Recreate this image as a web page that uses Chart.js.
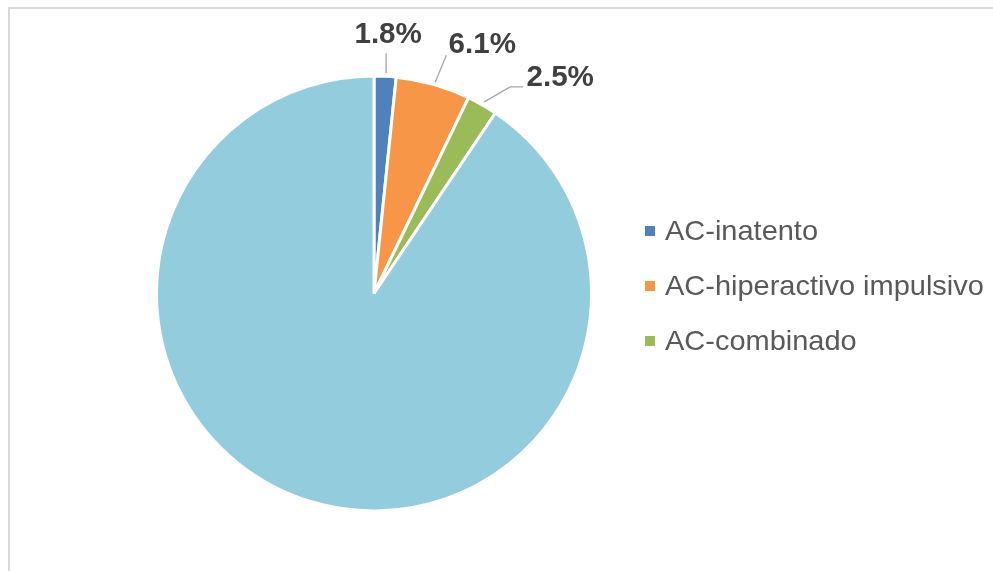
<!DOCTYPE html>
<html>
<head>
<meta charset="utf-8">
<title>Subtipos AC</title>
<script src="https://cdn.jsdelivr.net/npm/chart.js"></script>
<style>
    body {
        margin: 0;
        background: #fff;
        font-family: "Liberation Sans", Arial, sans-serif;
    }
    #frame {
        position: absolute;
        left: 8px;
        top: 7px;
        width: 1000px;
        height: 600px;
        border-left: 2px solid #d9d9d9;
        border-top: 2px solid #d9d9d9;
    }
    #wrap {
        position: absolute;
        left: 0;
        top: 0;
        width: 993px;
        height: 571px;
    }
</style>
</head>
<body>
<div id="frame"></div>
<div id="wrap"><canvas id="pieChart"></canvas></div>
<script>
// categories and values; the last slice is the whole group, unlabelled and kept out of the legend
const categories = ["AC-inatento", "AC-hiperactivo impulsivo", "AC-combinado", "Total"];
const percentages = [1.8, 6.1, 2.5, 100];
const sliceColors = ["#4f81bd", "#f79646", "#9bbb59", "#93cddd"];
const legendCount = 3;

// where each value label sits relative to the slice's outer edge, and its leader line
const labelOffsets = [[3, -41], [49, -39], [78, -27]];
const leaderPaths = [
    [[1, -3], [1, -23]],
    [[2, -2], [13, -29]],
    [[2, -3], [28, -18], [41, -18]]
];

const FONT = '"Liberation Sans", Arial, sans-serif';

// text slightly widened to match the chart's typeface proportions
function wideText(ctx, text, x, y, stretch) {
    ctx.save();
    ctx.translate(x, y);
    ctx.scale(stretch, 1);
    ctx.fillText(text, 0, 0);
    ctx.restore();
}

const valueLabels = {
    id: "valueLabels",
    afterDatasetsDraw(chart) {
        const ctx = chart.ctx;
        const arcs = chart.getDatasetMeta(0).data;
        ctx.save();
        for (let i = 0; i < labelOffsets.length; i++) {
            const arc = arcs[i];
            const mid = (arc.startAngle + arc.endAngle) / 2;
            const ax = arc.x + Math.cos(mid) * arc.outerRadius;
            const ay = arc.y + Math.sin(mid) * arc.outerRadius;

            ctx.strokeStyle = "#a6a6a6";
            ctx.lineWidth = 1.3;
            ctx.beginPath();
            leaderPaths[i].forEach((p, k) => {
                if (k === 0) ctx.moveTo(ax + p[0], ay + p[1]);
                else ctx.lineTo(ax + p[0], ay + p[1]);
            });
            ctx.stroke();

            ctx.fillStyle = "#404040";
            ctx.font = "bold 29px " + FONT;
            ctx.textAlign = "center";
            ctx.textBaseline = "middle";
            wideText(ctx, percentages[i].toFixed(1) + "%", ax + labelOffsets[i][0], ay + labelOffsets[i][1], 1.02);
        }
        ctx.restore();
    }
};

const sideLegend = {
    id: "sideLegend",
    afterDraw(chart) {
        const ctx = chart.ctx;
        ctx.save();
        ctx.font = "28px " + FONT;
        ctx.textAlign = "left";
        ctx.textBaseline = "middle";
        for (let i = 0; i < legendCount; i++) {
            const y = 231 + i * 55;
            ctx.fillStyle = sliceColors[i];
            ctx.fillRect(645, y - 5, 10, 10);
            ctx.fillStyle = "#595959";
            wideText(ctx, categories[i], 665, y + 1, 1.035);
        }
        ctx.restore();
    }
};

new Chart(document.getElementById("pieChart"), {
    type: "pie",
    data: {
        labels: categories,
        datasets: [{
            data: percentages,
            backgroundColor: sliceColors,
            borderColor: "#ffffff",
            borderWidth: 3
        }]
    },
    options: {
        responsive: true,
        maintainAspectRatio: false,
        animation: false,
        layout: { padding: { top: 74, bottom: 58, left: 155, right: 400 } },
        plugins: {
            legend: { display: false },
            tooltip: { enabled: false }
        }
    },
    plugins: [valueLabels, sideLegend]
});
</script>
</body>
</html>
